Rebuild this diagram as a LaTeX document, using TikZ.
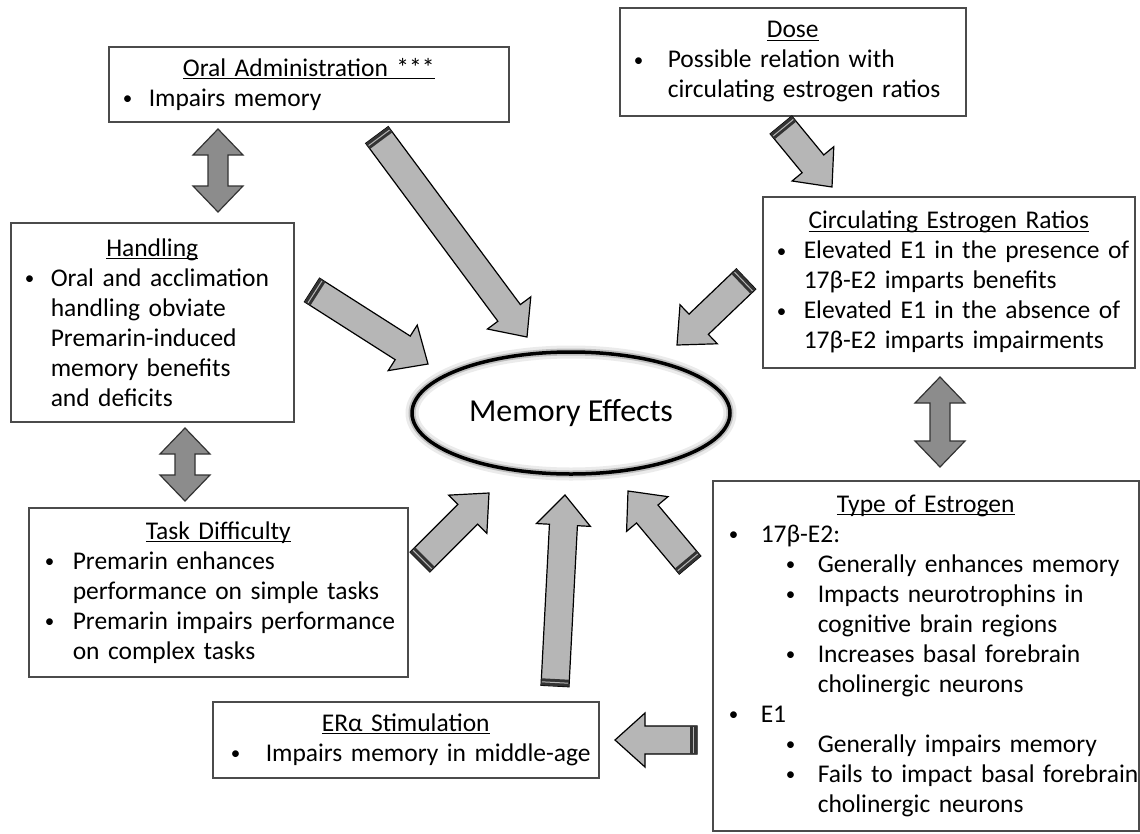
\documentclass[tikz,border=0pt]{standalone}
\usepackage{fontspec}
\setmainfont{Carlito}
\usetikzlibrary{calc,shapes.geometric}
\definecolor{ArrowLight}{RGB}{182,182,182}
\definecolor{ArrowDark}{RGB}{140,140,140}
\definecolor{BoxLine}{RGB}{75,75,75}
\tikzset{
  infobox/.style={draw=BoxLine,line width=1.5pt,anchor=north west,inner xsep=2pt,inner ysep=0pt,
    font=\fontsize{25.5}{30}\selectfont},
  memoval/.style={ellipse,draw=black,line width=3.5pt,minimum width=318pt,minimum height=122pt,
    preaction={draw=black!8,line width=13pt},preaction={draw=black!25,line width=7pt},
    font=\fontsize{32}{38}\selectfont},
  arrowbody/.style={fill=ArrowLight,draw=black,line width=1.2pt,line join=miter},
  dblbody/.style={fill=ArrowDark,draw=black!80,line width=1.2pt,line join=miter},
}
% underlined, centred title
\newcommand{\boxtitle}[1]{\hbox to\hsize{\hss\setbox0\hbox{#1}\rlap{\rule[-3pt]{\wd0}{1.2pt}}\box0\hss}}
% one text line at an indent
\newcommand{\bline}[2]{\hbox to\hsize{\hskip#1pt\relax#2\hss}}
% bullet line: bullet indent, text indent, text
\newcommand{\bitem}[3]{\hbox to\hsize{\hskip#1pt\relax\makebox[\dimexpr#2pt-#1pt\relax][l]{\raisebox{1.5pt}{\fontsize{19}{19}\selectfont\textbullet}}#3\hss}}
% block arrow from tail #1 to tip #2
\newcommand{\blockarrow}[2]{%
  \draw[arrowbody] ($(#1)!14pt!90:(#2)$) -- ($(#2)!30pt!(#1)!14pt!-90:(#1)$) -- ($(#2)!30pt!(#1)!27pt!-90:(#1)$)
    -- (#2) -- ($(#2)!30pt!(#1)!27pt!90:(#1)$) -- ($(#2)!30pt!(#1)!14pt!90:(#1)$) -- ($(#1)!14pt!-90:(#2)$) -- cycle;
  \fill[black!80] ($(#1)!14pt!90:(#2)$) -- ($(#1)!14pt!-90:(#2)$) -- ($(#1)!7pt!(#2)!14pt!-90:(#2)$) -- ($(#1)!7pt!(#2)!14pt!90:(#2)$) -- cycle;
  \draw[ArrowLight,line width=1pt] ($(#1)!3.5pt!(#2)!13pt!90:(#2)$) -- ($(#1)!3.5pt!(#2)!13pt!-90:(#2)$);
}
% double block arrow between #1 and #2
\newcommand{\dblarrow}[2]{%
  \draw[dblbody] (#1) -- ($(#1)!26pt!(#2)!25pt!90:(#2)$) -- ($(#1)!26pt!(#2)!10pt!90:(#2)$) -- ($(#2)!26pt!(#1)!10pt!-90:(#1)$)
    -- ($(#2)!26pt!(#1)!25pt!-90:(#1)$) -- (#2) -- ($(#2)!26pt!(#1)!25pt!90:(#1)$) -- ($(#2)!26pt!(#1)!10pt!90:(#1)$)
    -- ($(#1)!26pt!(#2)!10pt!-90:(#2)$) -- ($(#1)!26pt!(#2)!25pt!-90:(#2)$) -- cycle;
}

\begin{document}
\begin{tikzpicture}[x=1pt,y=-1pt]
  \useasboundingbox (0,0) rectangle (1140,833);

  % boxes
  \node[infobox,minimum width=400pt,minimum height=75pt,text width=396pt] (oral) at (108,46)
    {\boxtitle{Oral Administration ***}
     \bitem{12}{38}{Impairs memory}};
  \node[infobox,minimum width=346pt,minimum height=108pt,text width=342pt] (dose) at (619,7)
    {\boxtitle{Dose}
     \bitem{12}{46}{Possible relation with}
     \bline{46}{circulating estrogen ratios}};
  \node[infobox,minimum width=283pt,minimum height=199pt,text width=279pt] (hand) at (10,222)
    {\boxtitle{Handling}
     \bitem{12}{38}{Oral and acclimation}
     \bline{38}{handling obviate}
     \bline{38}{Premarin-induced}
     \bline{38}{memory benefits}
     \bline{38}{and deficits}};
  \node[infobox,minimum width=372pt,minimum height=171pt,text width=368pt] (circ) at (762,196)
    {\boxtitle{Circulating Estrogen Ratios}
     \bitem{12}{39}{Elevated E1 in the presence of}
     \bline{39}{17β-E2 imparts benefits}
     \bitem{12}{39}{Elevated E1 in the absence of}
     \bline{39}{17β-E2 imparts impairments}};
  \node[infobox,minimum width=379pt,minimum height=169pt,text width=375pt] (task) at (28,507)
    {\boxtitle{Task Difficulty}
     \bitem{14}{42}{Premarin enhances}
     \bline{42}{performance on simple tasks}
     \bitem{14}{42}{Premarin impairs performance}
     \bline{42}{on complex tasks}};
  \node[infobox,minimum width=426pt,minimum height=350pt,text width=422pt] (type) at (712,480)
    {\boxtitle{Type of Estrogen}
     \bitem{14}{46}{17β-E2:}
     \bitem{71}{103}{Generally enhances memory}
     \bitem{71}{103}{Impacts neurotrophins in}
     \bline{103}{cognitive brain regions}
     \bitem{71}{103}{Increases basal forebrain}
     \bline{103}{cholinergic neurons}
     \bitem{14}{46}{E1}
     \bitem{71}{103}{Generally impairs memory}
     \bitem{71}{103}{Fails to impact basal forebrain}
     \bline{103}{cholinergic neurons}};
  \node[infobox,minimum width=386pt,minimum height=76pt,text width=382pt] (era) at (212,701)
    {\boxtitle{ERα Stimulation}
     \bitem{16}{51}{Impairs memory in middle-age}};

  % centre
  \node[memoval] (mem) at (571,413) {Memory Effects};

  % arrow ends
  \coordinate (oralT) at (377,135);  \coordinate (oralH) at (527,337);
  \coordinate (handT) at (312,290);  \coordinate (handH) at (428,364);
  \coordinate (doseT) at (781,125);  \coordinate (doseH) at (832,187);
  \coordinate (circT) at (746,279);  \coordinate (circH) at (677,345);
  \coordinate (taskT) at (420,562);  \coordinate (taskH) at (489,493);
  \coordinate (eraT)  at (555,686);  \coordinate (eraH)  at (565,495);
  \coordinate (typeT) at (690,565);  \coordinate (typeH) at (628,491);
  \coordinate (leftT) at (697,740);  \coordinate (leftH) at (615,740);

  \blockarrow{oralT}{oralH}
  \blockarrow{handT}{handH}
  \blockarrow{doseT}{doseH}
  \blockarrow{circT}{circH}
  \blockarrow{taskT}{taskH}
  \blockarrow{eraT}{eraH}
  \blockarrow{typeT}{typeH}
  \blockarrow{leftT}{leftH}

  % two-way arrows
  \coordinate (ohA) at (218,129);  \coordinate (ohB) at (218,212);
  \coordinate (htA) at (185,428);  \coordinate (htB) at (185,501);
  \coordinate (ctA) at (940,377);  \coordinate (ctB) at (940,467);
  \dblarrow{ohA}{ohB}
  \dblarrow{htA}{htB}
  \dblarrow{ctA}{ctB}
\end{tikzpicture}
\end{document}
